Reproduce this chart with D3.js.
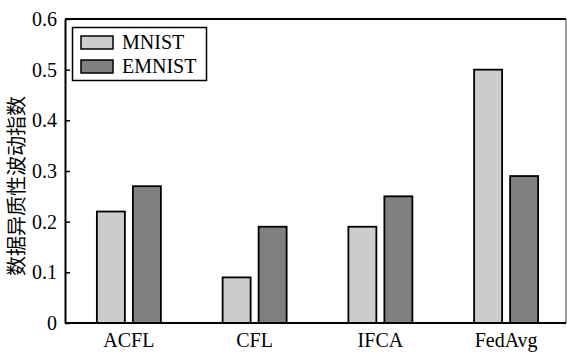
<!DOCTYPE html>
<html><head><meta charset="utf-8">
<script src="https://cdn.jsdelivr.net/npm/d3@7/dist/d3.min.js"></script>
<style>body{margin:0;background:#fff}svg{display:block}
.serif{font-family:"Liberation Serif","DejaVu Serif",serif}</style>
</head><body>
<svg id="c" width="567" height="353"></svg>
<script>
const categories = ["ACFL", "CFL", "IFCA", "FedAvg"];
const series = ["MNIST", "EMNIST"];
const mnist = [0.22, 0.09, 0.19, 0.50];
const emnist = [0.27, 0.19, 0.25, 0.29];
const yTicks = [0, 0.1, 0.2, 0.3, 0.4, 0.5, 0.6];
const yTickLabels = ["0", "0.1", "0.2", "0.3", "0.4", "0.5", "0.6"];
const yTitle = "数据异质性波动指数";
const colors = {MNIST: "#cccccc", EMNIST: "#808080"};

const svg = d3.select("#c");
const L = 65, R = 566, T = 19, B = 323;
const serif = '"Liberation Serif", serif';
const fs = "20px";

const x = d3.scaleBand().domain(categories).range([66, 569]);
const xs = d3.scaleBand().domain(series).range([-32, 32]).paddingInner(2 - 64/36);
const y = d3.scaleLinear().domain([0, 0.6]).range([B, T]);

const values = {MNIST: mnist, EMNIST: emnist};

// bars
categories.forEach((c, i) => {
  series.forEach(s => {
    const v = values[s][i];
    svg.append("rect")
      .attr("x", x(c) + x.bandwidth()/2 + xs(s))
      .attr("y", y(v))
      .attr("width", xs.bandwidth())
      .attr("height", y(0) - y(v))
      .attr("fill", colors[s])
      .attr("stroke", "#000")
      .attr("stroke-width", 1.8);
  });
});

// frame
svg.append("line").attr("x1", L).attr("x2", R).attr("y1", T).attr("y2", T).attr("stroke", "#000").attr("stroke-width", 2);
svg.append("line").attr("x1", R).attr("x2", R).attr("y1", T).attr("y2", B).attr("stroke", "#777").attr("stroke-width", 1.5);

// y axis
const yAxis = d3.axisLeft(y).tickValues(yTicks).tickFormat((d, i) => yTickLabels[i]).tickSizeInner(-5).tickSizeOuter(0).tickPadding(8);
const gy = svg.append("g").attr("transform", `translate(${L},0)`).call(yAxis).attr("font-family", null).attr("font-size", null);
gy.select(".domain").attr("stroke", "#000").attr("stroke-width", 2);
gy.selectAll(".tick line").attr("stroke", "#000").attr("stroke-width", 1.5);
gy.selectAll(".tick text").attr("class", "serif").style("font-family", serif).style("font-size", fs).attr("fill", "#000");

// x axis
const xAxis = d3.axisBottom(x).tickSize(0).tickSizeOuter(0).tickPadding(10);
const gx = svg.append("g").attr("transform", `translate(0,${B})`).call(xAxis).attr("font-family", null).attr("font-size", null);
gx.select(".domain").attr("d", `M${L},0H${R}`).attr("stroke", "#000").attr("stroke-width", 2);
gx.selectAll(".tick text").attr("class", "serif").style("font-family", serif).style("font-size", fs).attr("fill", "#000");

// y title
svg.append("text")
  .attr("transform", "translate(24,186) rotate(-90)")
  .attr("text-anchor", "middle")
  .style("font-family", "'Noto Sans CJK SC'")
  .style("font-size", "20px")
  .attr("fill", "#000")
  .text(yTitle);

// legend
const lg = svg.append("g");
lg.append("rect").attr("x", 72.5).attr("y", 27.5).attr("width", 134).attr("height", 53)
  .attr("fill", "#fff").attr("stroke", "#000").attr("stroke-width", 1.5);
series.forEach((s, i) => {
  const yy = 36 + i * 24;
  lg.append("rect").attr("x", 81).attr("y", yy).attr("width", 32).attr("height", 13)
    .attr("fill", colors[s]).attr("stroke", "#000").attr("stroke-width", 1.5);
  lg.append("text").attr("x", 122).attr("y", yy + 13).attr("class", "serif")
    .style("font-family", serif).style("font-size", fs).attr("fill", "#000").text(s);
});
</script>
</body></html>
